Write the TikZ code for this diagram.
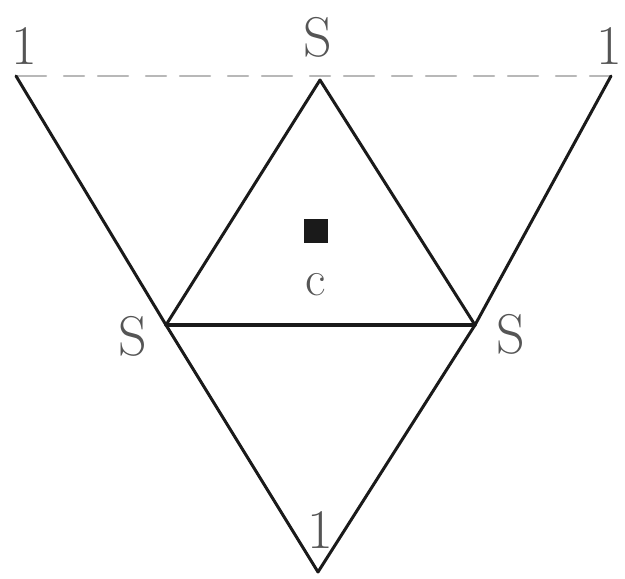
\documentclass[tikz,border=0pt]{standalone}
\usepackage{fontspec}
\usepackage{tikz}
\usetikzlibrary{positioning,calc}
\definecolor{ink}{HTML}{1A1A1A}
\definecolor{labelgray}{HTML}{555555}
\definecolor{faint}{HTML}{B8B8B8}
\tikzset{
    every picture/.style={line cap=round,line join=round},
    corner/.style={inner sep=0pt,outer sep=0pt,minimum size=0pt},
    vlabel/.style={text=labelgray,inner sep=0pt,
      font=\fontsize{56}{62}\selectfont},
    sidelabel/.style={text=labelgray,inner sep=0pt,
      font=\fontsize{50}{56}\selectfont},
    edgeline/.style={draw=ink,line width=3pt},
    baseline/.style={draw=ink,line width=3.4pt},
    topline/.style={draw=faint,line width=2.5pt,dash pattern=on 30pt off 18pt on 20pt off 14pt},
    centre/.style={fill=ink,minimum size=24pt,inner sep=0pt}
}
\begin{document}
\begin{tikzpicture}[x=1pt,y=-1pt]
    \useasboundingbox (0,0) rectangle (625,579);
    % corners of the figure
    \node[corner] (tl) at (16,76) {};
    \node[corner] (tr) at (611,76) {};
    \node[corner] (top) at (320,80) {};
    \node[corner] (lv) at (166,325) {};
    \node[corner] (rv) at (475,325) {};
    \node[corner] (bot) at (318,572) {};
    % sides
    \draw[topline] (tl) -- (tr);
    \foreach \x/\y in {tl/lv,lv/bot,tr/rv,rv/bot,top/lv,top/rv}
        \draw[edgeline] (\x)--(\y);
    \draw[baseline] (lv) -- (rv);
    % labels
    \node[vlabel] (ltl) at (24,46) {1};
    \node[vlabel] (ltr) at (609,46) {1};
    \node[vlabel] (ltop) at (318,37) {S};
    \node[vlabel] (llv) at (133,336) {S};
    \node[vlabel] (lrv) at (511,334) {S};
    \node[vlabel] (lbot) at (320,530) {1};
    \node[centre] (sq) at (316,231) {};
    \node[sidelabel,below=30pt of sq] (lc) {c};
\end{tikzpicture}
\end{document}
